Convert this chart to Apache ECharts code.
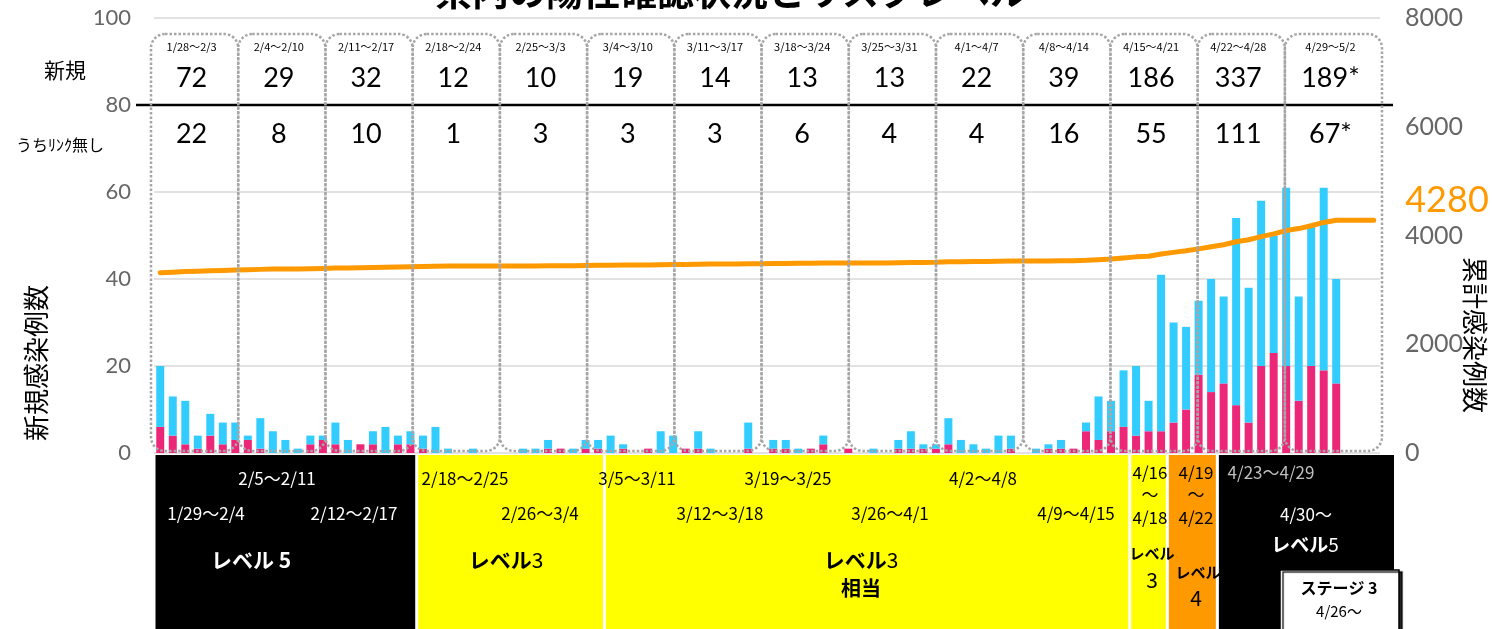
<!DOCTYPE html>
<html><head><meta charset="utf-8">
<script src="https://cdn.jsdelivr.net/npm/echarts@6/dist/echarts.min.js"></script>
<style>html,body{margin:0;padding:0;background:#fff}#c{width:1492px;height:629px}</style>
</head><body><div id="c"></div>
<script>
// ---------- DATA ----------
const dates = ['1/28','1/29','1/30','1/31',
 '2/1','2/2','2/3','2/4','2/5','2/6','2/7','2/8','2/9','2/10','2/11','2/12','2/13','2/14','2/15','2/16','2/17','2/18','2/19','2/20','2/21','2/22','2/23','2/24','2/25','2/26','2/27','2/28',
 '3/1','3/2','3/3','3/4','3/5','3/6','3/7','3/8','3/9','3/10','3/11','3/12','3/13','3/14','3/15','3/16','3/17','3/18','3/19','3/20','3/21','3/22','3/23','3/24','3/25','3/26','3/27','3/28','3/29','3/30','3/31',
 '4/1','4/2','4/3','4/4','4/5','4/6','4/7','4/8','4/9','4/10','4/11','4/12','4/13','4/14','4/15','4/16','4/17','4/18','4/19','4/20','4/21','4/22','4/23','4/24','4/25','4/26','4/27','4/28','4/29','4/30',
 '5/1','5/2','5/3','5/4','5/5'];
// daily new cases without known link (pink)
const unlinked = [6,4,2,1,4,2,3, 3,1,0,0,0,2,3, 2,0,2,2,0,2,2, 1,0,0,0,0,0,0, 0,0,0,1,1,0,1,
 1,0,1,0,1,0,0, 1,1,0,0,0,1,0, 1,1,0,1,2,0,1, 0,0,0,1,1,1,1, 2,0,0,0,0,1,0,
 0,1,1,1,5,3,5, 6,4,5,5,7,10,18, 14,16,11,7,20,23,20, 12,20,19,16];
// daily new cases with known link (cyan)
const linked = [14,9,10,3,5,5,4, 1,7,5,3,1,2,1, 5,3,0,3,6,2,3, 3,6,1,0,1,0,0, 0,1,1,2,0,1,2,
 2,4,1,0,0,5,4, 0,4,1,0,0,6,0, 2,2,1,0,2,0,0, 0,1,0,2,4,1,1, 6,3,2,1,4,3,0,
 1,1,2,0,2,10,7, 13,16,7,36,23,19,17, 26,20,43,31,38,27,41, 24,32,42,24];
// cumulative cases (orange line, right axis)
const cumulative = [3313,3326,3338,3342,3351,3358,3365, 3369,3377,3382,3385,3386,3390,3394,
 3401,3404,3406,3411,3417,3421,3426, 3430,3436,3437,3437,3438,3438,3438, 3438,3439,3440,3443,3444,3445,3448,
 3451,3455,3457,3457,3458,3463,3467, 3468,3473,3474,3474,3474,3481,3481, 3484,3487,3488,3489,3493,3493,3494,
 3494,3495,3495,3498,3503,3505,3507, 3515,3518,3520,3521,3525,3529,3529, 3530,3532,3535,3536,3543,3556,3568,
 3587,3607,3619,3660,3690,3719,3754, 3794,3830,3884,3922,3980,4030,4091, 4127,4179,4240,4280, 4280,4280,4280];
const leftTicks = {min:0, max:100, interval:20};
const rightTicks = {min:0, max:8000, interval:2000};
const weekLabels = ['1/28～2/3','2/4～2/10','2/11～2/17','2/18～2/24','2/25～3/3','3/4～3/10','3/11～3/17','3/18～3/24','3/25～3/31','4/1～4/7','4/8～4/14','4/15～4/21','4/22～4/28','4/29～5/2'];
const weekNew = ['72','29','32','12','10','19','14','13','13','22','39','186','337','189*'];
const weekUnlinked = ['22','8','10','1','3','3','3','6','4','4','16','55','111','67*'];
const levelStart = [0,21,36,78,81,85];
const levelEnd = [21,36,78,81,85,99];
const totalLabel = '4280';

// ---------- CHART ----------
const NUM = "Lato, 'Liberation Sans', sans-serif";
const JP = "'Noto Sans CJK JP', 'Noto Sans', sans-serif";
const chart = echarts.init(document.getElementById('c'));
chart.setOption({
  animation: false,
  grid: {left: 154, right: 112, top: 18, bottom: 176},
  xAxis: {type: 'category', data: dates, axisLine: {show: false}, axisTick: {show: false}, axisLabel: {show: false}},
  yAxis: [
    {type: 'value', min: leftTicks.min, max: leftTicks.max, interval: leftTicks.interval,
     axisLabel: {color: '#666', fontSize: 22, fontFamily: NUM, margin: 23, formatter: v => String(v)},
     splitLine: {lineStyle: {color: '#d9d9d9', width: 1.5}}, axisLine: {show: false}, axisTick: {show: false}},
    {type: 'value', min: rightTicks.min, max: rightTicks.max, interval: rightTicks.interval,
     axisLabel: {color: '#666', fontSize: 25, fontFamily: NUM, margin: 25, formatter: v => String(v)},
     splitLine: {show: false}, axisLine: {show: false}, axisTick: {show: false}}
  ],
  series: [
    {type: 'bar', name: 'うちリンク無し', stack: 'a', data: unlinked, barWidth: 8, itemStyle: {color: '#EC2778'}},
    {type: 'bar', name: 'リンク有り', stack: 'a', data: linked, barWidth: 8, itemStyle: {color: '#33CCFF'}},
    {type: 'line', name: '累計', yAxisIndex: 1, data: cumulative, symbol: 'none', z: 5,
     lineStyle: {color: '#FF9900', width: 5, cap: 'round', join: 'round'}}
  ]
});

// ---------- ANNOTATIONS ----------
const px = i => chart.convertToPixel({xAxisIndex: 0}, i);
const step = px(1) - px(0);
const bnd = k => px(0) - step / 2 + k * step;
const py = v => chart.convertToPixel({yAxisIndex: 0}, v);
const g = [];
function T(text, x, y, o) {
  o = o || {};
  return {type: 'text', x: x, y: y, rotation: o.rot || 0, z: 120,
    style: {text: text, fill: o.fill || '#000', fontSize: o.size || 19, fontFamily: o.font || JP,
      fontWeight: o.bold ? 'bold' : 'normal', align: 'center', verticalAlign: 'middle', rich: o.rich}};
}
// title (cut at top)
g.push(T('県内の陽性確認状況とリスクレベル', 731, -8, {size: 37, bold: true}));
g.push(T('（5月2日現在）', 1240, -12, {size: 24}));
// black line at 80
g.push({type: 'line', z: 110, shape: {x1: 136, y1: py(80), x2: 1393, y2: py(80)}, style: {stroke: '#000', lineWidth: 2.5}});
// week boxes
const boxTop = 34, boxBot = py(0) - 2;
for (let k = 0; k < weekLabels.length; k++) {
  const l = bnd(7 * k) - 3 - k * 0.35;
  const r = (k === weekLabels.length - 1) ? bnd(98) + 2 : bnd(7 * k + 7) - 3 - (k + 1) * 0.35;
  g.push({type: 'rect', z: 115, shape: {x: l, y: boxTop, width: r - l, height: boxBot - boxTop, r: 14},
    style: {fill: 'none', stroke: '#a6a6a6', lineWidth: 2.5, lineDash: [2.5, 2]}});
  const cx = (l + r) / 2 - 3;
  g.push(T(weekLabels[k], cx, 47, {size: 11}));
  g.push(T(weekNew[k], cx, 78, {size: 27, font: NUM}));
  g.push(T(weekUnlinked[k], cx, 134, {size: 27, font: NUM}));
}
// left labels
g.push(T('新規', 65, 70, {size: 21}));
g.push(T('うちﾘﾝｸ無し', 60, 145, {size: 16}));
// axis names
g.push(T('新規感染例数', 36, 363, {size: 26, rot: Math.PI / 2}));
g.push(T('累計感染例数', 1475, 335, {size: 26, rot: -Math.PI / 2}));
g.push(T(totalLabel, 1447, 200, {size: 36, font: NUM, fill: '#FF9900'}));
// level bands
const levelColors = ['#000', '#FFFF00', '#FFFF00', '#FFFF00', '#FF9900', '#000'];
for (let j = 0; j < levelStart.length; j++) {
  const l = bnd(levelStart[j]) + 1.5;
  const r = (j === levelStart.length - 1) ? 1394 : bnd(levelEnd[j]) - 1.5;
  g.push({type: 'rect', z: 100, shape: {x: l, y: 455, width: r - l, height: 180}, style: {fill: levelColors[j]}});
}
const W = '#fff';
const richLv = (c, s) => ({b: {fontWeight: 'bold', fontSize: s, fill: c, fontFamily: JP}, n: {fontSize: s, fill: c, fontFamily: JP}});
[
  ['2/5～2/11', 277, 479, W], ['1/29～2/4', 206, 514, W], ['2/12～2/17', 354, 514, W],
  ['2/18～2/25', 465, 479], ['2/26～3/4', 540, 514],
  ['3/5～3/11', 637, 479], ['3/12～3/18', 720, 514], ['3/19～3/25', 788, 479], ['3/26～4/1', 890, 514],
  ['4/2～4/8', 983, 479], ['4/9～4/15', 1076, 514],
  ['4/16', 1150, 473], ['～', 1150, 495], ['4/18', 1150, 518],
  ['4/19', 1196, 473], ['～', 1196, 495], ['4/22', 1196, 518],
  ['4/23～4/29', 1271, 473, '#bfbfbf'], ['4/30～', 1306, 515, W]
].forEach(a => g.push(T(a[0], a[1], a[2], {size: 17, fill: a[3] || '#000'})));
g.push(T('{b|レベル 5}', 251, 560, {rich: richLv(W, 21)}));
g.push(T('{b|レベル}{n|3}', 506, 560, {rich: richLv('#000', 21)}));
g.push(T('{b|レベル}{n|3}', 861, 560, {rich: richLv('#000', 21)}));
g.push(T('相当', 861, 588, {size: 20, bold: true}));
g.push(T('レベル', 1152, 553, {size: 15, bold: true}));
g.push(T('3', 1152, 580, {size: 21}));
g.push(T('レベル', 1198, 572, {size: 15, bold: true}));
g.push(T('4', 1196, 598, {size: 21}));
g.push(T('{b|レベル}{n|5}', 1305, 545, {rich: richLv(W, 19)}));
// stage box
g.push({type: 'rect', z: 125, shape: {x: 1280, y: 570, width: 119, height: 70},
  style: {fill: '#fff', stroke: '#000', lineWidth: 1.5, shadowColor: 'rgba(0,0,0,0.85)', shadowOffsetX: 3, shadowOffsetY: 2, shadowBlur: 1}});
g.push(Object.assign(T('ステージ 3', 1339, 588, {size: 16, bold: true}), {z: 130}));
g.push(Object.assign(T('4/26～', 1339, 611, {size: 15}), {z: 130}));
chart.setOption({graphic: g});
</script>
</body></html>
